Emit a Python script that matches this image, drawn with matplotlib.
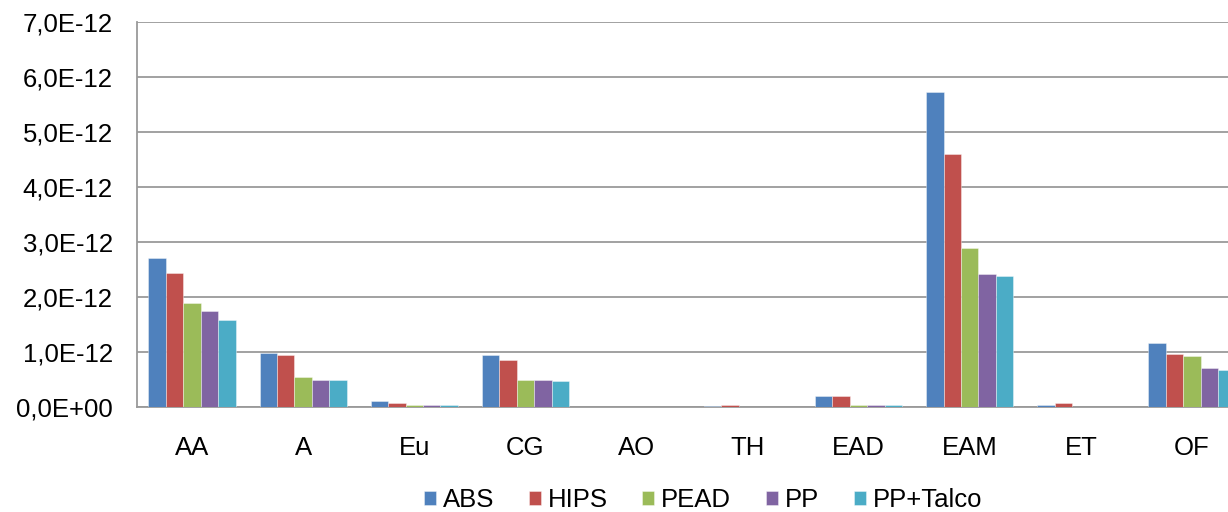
import numpy as np
import matplotlib
matplotlib.use("Agg")
import matplotlib.pyplot as plt
from matplotlib.ticker import FuncFormatter, MultipleLocator

plt.rcParams['font.family'] = ['Liberation Sans', 'DejaVu Sans']

# Data (units of 1E-12)
categories = ["AA", "A", "Eu", "CG", "AO", "TH", "EAD", "EAM", "ET", "OF"]
series_names = ["ABS", "HIPS", "PEAD", "PP", "PP+Talco"]
abs_vals = [2.72, 0.98, 0.11, 0.96, 0.0, 0.02, 0.20, 5.74, 0.05, 1.17]
hips_vals = [2.45, 0.95, 0.08, 0.86, 0.0, 0.05, 0.20, 4.60, 0.08, 0.97]
pead_vals = [1.90, 0.55, 0.05, 0.49, 0.0, 0.0, 0.05, 2.90, 0.0, 0.93]
pp_vals = [1.76, 0.49, 0.05, 0.49, 0.0, 0.0, 0.05, 2.42, 0.0, 0.72]
talco_vals = [1.58, 0.49, 0.05, 0.47, 0.0, 0.0, 0.05, 2.39, 0.0, 0.67]

colors = ["#4F81BD", "#C0504D", "#9BBB59", "#8064A2", "#4BACC6"]
all_series = [abs_vals, hips_vals, pead_vals, pp_vals, talco_vals]

fig = plt.figure(figsize=(12.28, 5.12), dpi=100)
# axes placed in pixel terms: left 136.5, top 22.3, bottom 407.3
ax = fig.add_axes([136.5 / 1228, 1 - 407.3 / 512, 1 - 136.5 / 1228, 385 / 512])

x = np.arange(len(categories))
bw = 0.157
for i, (name, vals) in enumerate(zip(series_names, all_series)):
    offs = (i - 2) * bw
    ax.bar(x + offs, np.array(vals) * 1e-12, width=bw, color=colors[i],
           label=name, edgecolor=(1, 1, 1, 0.45), linewidth=0.6, zorder=3)

ax.set_xlim(-0.5, -0.5 + (1228 - 136.5) / 111.1)
ax.set_ylim(0, 7e-12)
ax.yaxis.set_major_locator(MultipleLocator(1e-12))


def fmt(v, pos):
    if abs(v) < 1e-15:
        return "0,0E+00"
    return f"{v / 1e-12:.1f}E-12".replace(".", ",")


ax.yaxis.set_major_formatter(FuncFormatter(fmt))
ax.set_xticks(x)
ax.set_xticklabels(categories)

ax.grid(axis="y", color="#9A9A9A", linewidth=1.3, zorder=0)
ax.set_axisbelow(True)
for s in ["top", "right"]:
    ax.spines[s].set_visible(False)
for s in ["left", "bottom"]:
    ax.spines[s].set_color("#9A9A9A")
    ax.spines[s].set_linewidth(1.3)

ax.tick_params(axis="y", length=0, pad=17, labelsize=18.5)
ax.tick_params(axis="x", length=0, pad=21, labelsize=18.5)

fig.legend(loc="center", bbox_to_anchor=(703 / 1228, 1 - 500 / 512), ncol=5,
           frameon=False, fontsize=18.5, handlelength=0.455, handleheight=0.455,
           handletextpad=0.27, columnspacing=1.36)

fig.savefig("out.png", dpi=100)
